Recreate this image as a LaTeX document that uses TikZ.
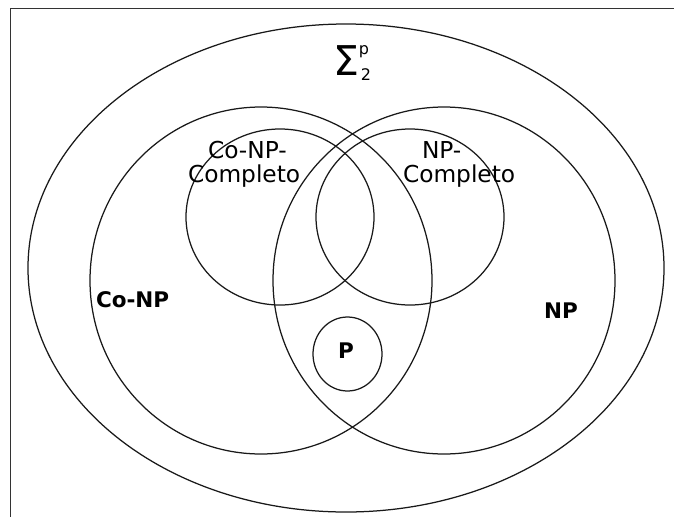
\documentclass[tikz,border=0pt]{standalone}
\usepackage{fontspec}
\setmainfont{DejaVu Sans}
\begin{document}
\begin{tikzpicture}[x=1pt,y=-1pt,
  ring/.style={draw=black!90,line width=1.25pt},
  lbl/.style={inner sep=0pt,outer sep=0pt,anchor=base west},
  big/.style={font=\fontsize{23.3}{24}\selectfont},
  bold/.style={font=\fontsize{21.5}{24}\selectfont\bfseries}]
\useasboundingbox (0,0) rectangle (674,517);
\draw[black!80,line width=1.7pt] (674,8.5) -- (10.5,8.5) -- (10.5,517);
% sets
\draw[ring] (346,268) ellipse [x radius=318, y radius=244];
\draw[ring] (261,280.5) ellipse [x radius=171, y radius=173.5];
\draw[ring] (444,280.5) ellipse [x radius=171, y radius=173.5];
\draw[ring] (280,217) ellipse [x radius=94, y radius=88];
\draw[ring] (410,217) ellipse [x radius=94, y radius=88];
\draw[ring] (347.5,354) ellipse [x radius=34.5, y radius=37];
% labels
\node[lbl,font=\fontsize{41}{41}\selectfont] (sig) at (333,75)
  {Σ{\fontsize{16}{16}\selectfont\rlap{\raisebox{21pt}{p}}\hspace{2pt}\raisebox{-5pt}{2}}};
\node[lbl,big,align=left] (conpc) at (188,182) {\hspace*{20pt}Co-NP-\\Completo};
\node[lbl,big,align=left] (npc) at (403,182) {\hspace*{19pt}NP-\\Completo};
\node[lbl,bold] (conp) at (96,307) {Co-NP};
\node[lbl,bold] (np) at (544,318) {NP};
\node[lbl,bold] (p) at (338,358) {P};
\end{tikzpicture}
\end{document}
